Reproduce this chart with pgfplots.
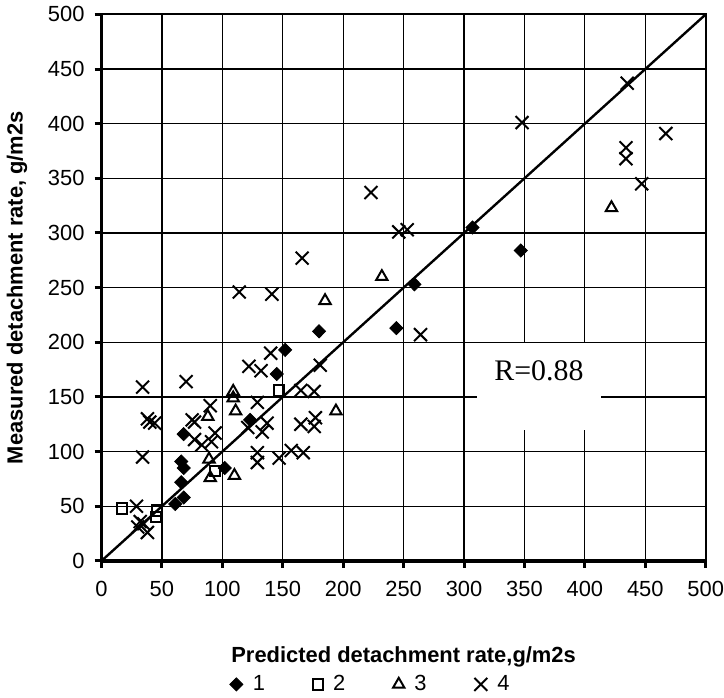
\documentclass[border=0pt]{standalone}
\usepackage{fontspec}
\setmainfont{Liberation Sans}
\newfontfamily\seriffont{Liberation Serif}
\usepackage{pgfplots}
\pgfplotsset{compat=1.18}

% measured vs predicted detachment rate, four groups
\pgfplotstableread{
x y
61 52
66 72
68 58
68 85
66 91
68 116
102 85
123 129
145 171
152 193
180 210
244 213
259 253
307 305
347 284
}\groupone
\pgfplotstableread{
x y
17 48
45 40
46 46
94 82
147 156
}\grouptwo
\pgfplotstableread{
x y
88 132
89 93
90 76
109 155
109 149
111 137
110 78
185 238
194 137
232 260
422 323
}\groupthree
\pgfplotstableread{
x y
34 159
70 164
114 246
141 244
166 277
223 337
246 301
253 303
264 207
348 401
435 437
467 391
434 378
434 368
447 345
140 190
122 178
132 174
181 179
165 156
176 155
129 145
90 142
38 130
40 127
44 126
75 129
77 127
137 126
121 122
133 118
165 125
177 131
176 123
94 117
91 109
77 111
83 106
34 95
129 99
129 90
147 94
157 101
167 99
29 50
32 36
35 34
30 31
38 26
}\groupfour

\begin{document}
\begin{tikzpicture}
\begin{axis}[
  scale only axis,
  width=303.5pt, height=274.5pt,
  xmin=0, xmax=500, ymin=0, ymax=500,
  xtick={0,50,...,500}, ytick={0,50,...,500},
  grid=major,
  major grid style={black, line width=0.6pt},
  axis line style={black, line width=1pt},
  xtick pos=bottom, ytick pos=left,
  tick align=outside,
  major tick length=3.5pt,
  every tick/.style={black, line width=1.5pt},
  /pgf/number format/assume math mode=true,
  tick label style={font=\fontsize{11}{13}\selectfont},
  xticklabel style={yshift=-3pt, inner xsep=0pt},
  yticklabel style={xshift=-1.5pt},
  xlabel={\bfseries Predicted detachment rate,g/m2s},
  ylabel={\bfseries Measured detachment rate, g/m2s},
  label style={font=\fontsize{11}{13}\selectfont},
  xlabel style={at={(axis description cs:0.5,-0.176)}, anchor=center},
  ylabel style={at={(axis description cs:-0.14,0.5)}, anchor=center},
  legend columns=4,
  legend style={at={(axis description cs:0.447,-0.226)}, anchor=center,
    draw=none, fill=none, inner sep=0pt, font=\fontsize{11}{13}\selectfont,
    /tikz/every odd column/.append style={column sep=3pt},
    /tikz/every even column/.append style={column sep=22pt}},
  legend cell align=left,
  clip=false,
]
\addplot[black, line width=1.2pt, forget plot] coordinates {(0,0) (500,500)};
\addplot[only marks, mark=diamond*, mark size=3.3pt,
  mark options={black, fill=black, xscale=1.33}] table {\groupone};
\addlegendentry{1}
\addplot[only marks, mark=square, mark size=2.6pt,
  mark options={black, line width=1pt}] table {\grouptwo};
\addlegendentry{2}
\addplot[only marks, mark=triangle, mark size=3.3pt,
  mark options={black, line width=1pt}] table {\groupthree};
\addlegendentry{3}
\addplot[only marks, mark=x, mark size=4.6pt,
  mark options={black, line width=1pt}] table {\groupfour};
\addlegendentry{4}
\draw[black, line width=1.8pt] (rel axis cs:0,1) -- (rel axis cs:0,0) -- (rel axis cs:1,0);
\fill[white] (axis cs:311,120) rectangle (axis cs:413,199);
\node[font=\seriffont\fontsize{15}{17}\selectfont] at (axis cs:362,174) {R=0.88};
\end{axis}
\end{tikzpicture}
\end{document}
